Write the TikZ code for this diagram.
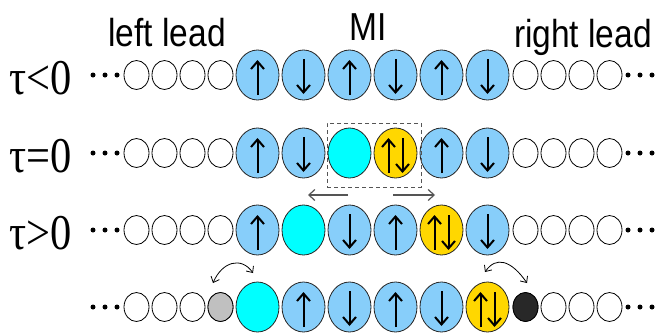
\documentclass[tikz,border=0pt]{standalone}
\usepackage{fontspec}
\setmainfont{Liberation Serif}
\setsansfont{Liberation Sans}
\usetikzlibrary{arrows.meta,shapes.geometric,calc}
\definecolor{spinblue}{RGB}{135,206,250}
\definecolor{holecyan}{RGB}{0,255,255}
\definecolor{doubly}{RGB}{255,215,0}
\definecolor{lgray}{RGB}{192,192,192}
\definecolor{dkfill}{RGB}{40,40,40}
\definecolor{boxgray}{RGB}{85,85,85}
\tikzset{
  bigsite/.style={draw=black!85,line width=0.8pt,ellipse,minimum width=43pt,minimum height=50pt,inner sep=0pt},
  smallsite/.style={draw=black,line width=0.8pt,ellipse,minimum width=25pt,minimum height=29pt,inner sep=0pt,fill=white},
  spin/.style={line width=2pt,-{Straight Barb[length=7.5pt,width=13pt]}},
  dotmark/.style={circle,fill=black,inner sep=0pt,minimum size=5pt},
  taulbl/.style={inner sep=0pt,anchor=base west,font=\fontsize{50}{50}\selectfont},
  leadlbl/.style={inner sep=0pt,anchor=base,font=\sffamily\fontsize{39}{39}\selectfont},
  movearrow/.style={draw=boxgray,line width=1.2pt,-{Straight Barb[length=6pt,width=11pt]}},
  hoparrow/.style={draw=black,line width=0.8pt,{Straight Barb[length=5pt,width=9pt]}-{Straight Barb[length=5pt,width=9pt]}}
}
\newcommand\upsite[3]{\node[bigsite,fill=spinblue] (#1) at (#2,#3) {};
  \draw[spin] ($(#1)+(0,20)$) -- ($(#1)+(0,-15)$);}
\newcommand\downsite[3]{\node[bigsite,fill=spinblue] (#1) at (#2,#3) {};
  \draw[spin] ($(#1)+(0,-16)$) -- ($(#1)+(0,19)$);}
\newcommand\holesite[3]{\node[bigsite,fill=holecyan] (#1) at (#2,#3) {};}
\newcommand\doubsite[3]{\node[bigsite,fill=doubly] (#1) at (#2,#3) {};
  \draw[spin] ($(#1)+(-7,20)$) -- ($(#1)+(-7,-15)$);
  \draw[spin] ($(#1)+(7,-15)$) -- ($(#1)+(7,20)$);}
\newcommand\leads[2]{% row name, y
  \foreach \k in {0,1,2,3}{
    \node[smallsite] (#1l\k) at (136.5+28*\k,#2) {};
    \node[smallsite] (#1r\k) at (525.5+28*\k,#2) {};
  }
  \foreach \k in {0,1,2}{
    \node[dotmark] (#1dl\k) at (93+12*\k,#2) {};
    \node[dotmark] (#1dr\k) at (628+12*\k,#2) {};
  }}
\begin{document}
\begin{tikzpicture}[x=1pt,y=-1pt]
\useasboundingbox (0,0) rectangle (655,335);
% labels
\node[leadlbl] (leftlbl) at (167,46) {\scalebox{0.86}[1]{left lead}};
\node[leadlbl] (milbl) at (368,40) {\scalebox{0.86}[1]{MI}};
\node[leadlbl] (rightlbl) at (583,47) {\scalebox{0.86}[1]{right lead}};
\node[taulbl] (t1) at (9,94) {\scalebox{0.85}[1]{τ<0}};
\node[taulbl] (t2) at (9,172) {\scalebox{0.85}[1]{τ=0}};
\node[taulbl] (t3) at (9,249) {\scalebox{0.85}[1]{τ>0}};
% row 1
\leads{a}{75}
\upsite{a1}{257.5}{75}\downsite{a2}{303.5}{75}\upsite{a3}{349.5}{75}
\downsite{a4}{395.5}{75}\upsite{a5}{441.5}{75}\downsite{a6}{487.5}{75}
% row 2
\leads{b}{153}
\upsite{b1}{257.5}{153}\downsite{b2}{303.5}{153}\holesite{b3}{349.5}{153}
\doubsite{b4}{395.5}{153}\upsite{b5}{441.5}{153}\downsite{b6}{487.5}{153}
\node[draw=boxgray,line width=0.9pt,dash pattern=on 4pt off 3pt,minimum width=94pt,minimum height=64pt,inner sep=0pt] (box) at (374,155) {};
\coordinate (mvl0) at (348,195);
\coordinate (mvl1) at (308,195);
\coordinate (mvr0) at (393,195);
\coordinate (mvr1) at (435,195);
\draw[movearrow] (mvl0) -- (mvl1);
\draw[movearrow] (mvr0) -- (mvr1);
% row 3
\leads{c}{230}
\upsite{c1}{257.5}{230}\holesite{c2}{303.5}{230}\downsite{c3}{349.5}{230}
\upsite{c4}{395.5}{230}\doubsite{c5}{441.5}{230}\downsite{c6}{487.5}{230}
% row 4
\leads{d}{307}
\node[smallsite,fill=lgray] (dgray) at (220.5,307) {};
\node[smallsite,fill=dkfill] (dblack) at (525.5,307) {};
\holesite{d1}{257.5}{307}\upsite{d2}{303.5}{307}\downsite{d3}{349.5}{307}
\upsite{d4}{395.5}{307}\downsite{d5}{441.5}{307}\doubsite{d6}{487.5}{307}
\coordinate (hl0) at (213,283);
\coordinate (hl1) at (253,273);
\coordinate (hr0) at (485,272);
\coordinate (hr1) at (527,283);
\draw[hoparrow] (hl0) .. controls (222,262) and (241,256) .. (hl1);
\draw[hoparrow] (hr0) .. controls (496,256) and (511,260) .. (hr1);
\end{tikzpicture}
\end{document}
